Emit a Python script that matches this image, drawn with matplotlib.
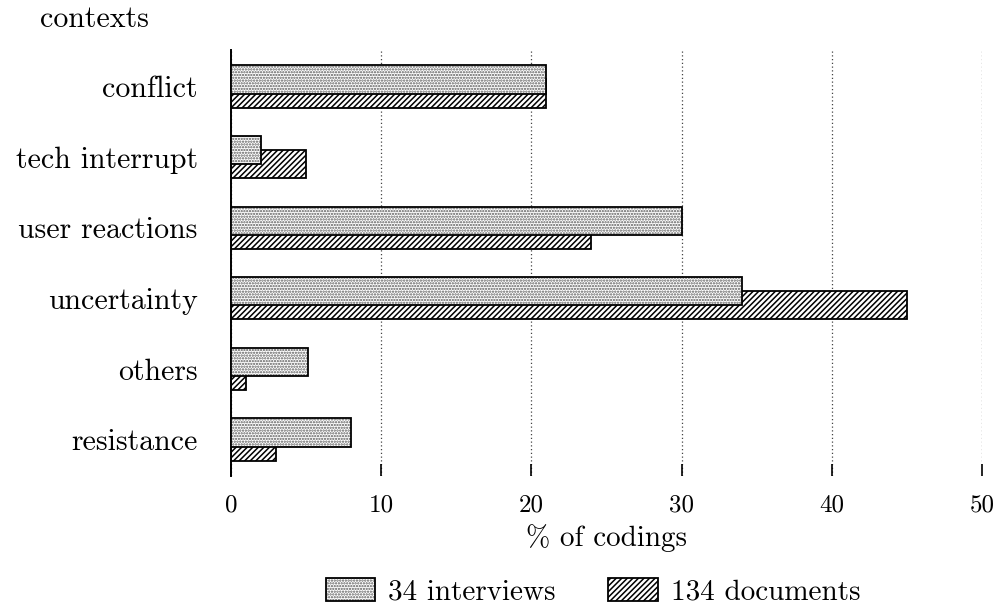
import matplotlib
matplotlib.use("Agg")
import matplotlib.pyplot as plt
import matplotlib.patches as mpatches
from matplotlib.legend_handler import HandlerTuple
import numpy as np

plt.rcParams["font.family"] = ["cmr10", "DejaVu Serif"]
plt.rcParams["axes.formatter.use_mathtext"] = True
plt.rcParams["hatch.linewidth"] = 1.1

# Share of codings per context, in percent
categories = ["conflict", "tech interrupt", "user reactions", "uncertainty", "others", "resistance"]
interviews = [21.0, 2.0, 30.0, 34.0, 5.1, 8.0]
documents = [21.0, 5.0, 24.0, 45.0, 1.0, 3.0]
series_names = ["34 interviews", "134 documents"]
x_ticks = [0, 10, 20, 30, 40, 50]

fig = plt.figure(figsize=(9.99, 6.12), dpi=100)
ax = fig.add_axes([231 / 999, 1 - 476 / 612, (982 - 231) / 999, (476 - 50) / 612])

y = np.arange(len(categories))
bar_h = 0.4
shift = 0.1

dot_hatch = "......"
line_hatch = "//////"
dot_color = "#5a5a5a"

# documents behind, interviews overlapping on top
ax.barh(y + shift, documents, height=bar_h, facecolor="white", edgecolor="black",
        hatch=line_hatch, linewidth=1.3, zorder=2)
ax.barh(y - shift, interviews, height=bar_h, facecolor="white", edgecolor=dot_color,
        hatch=dot_hatch, linewidth=0, zorder=3)
ax.barh(y - shift, interviews, height=bar_h, facecolor="none", edgecolor="black",
        linewidth=1.3, zorder=4)

ax.set_xlim(0, 50)
ax.set_ylim(len(categories) - 0.483, -0.517)

ax.set_xticks(x_ticks)
ax.set_xticklabels([str(t) for t in x_ticks], fontsize=18)
ax.set_yticks(y)
ax.set_yticklabels(categories, fontsize=21.5)

ax.tick_params(axis="x", direction="in", length=9, width=1.2, pad=13.5, color="black")
ax.tick_params(axis="y", direction="in", length=6.5, width=1.0, pad=24, color="black")

for side in ("top", "right", "bottom"):
    ax.spines[side].set_visible(False)
ax.spines["left"].set_linewidth(1.4)

ax.grid(axis="x", linestyle=(0, (1, 2)), color="#444444", linewidth=0.9, zorder=1)
ax.set_axisbelow(True)

ax.set_xlabel("% of codings", fontsize=21, labelpad=5)

fig.text(40 / 999, 1 - 27 / 612, "contexts", fontsize=21.5, ha="left", va="baseline")

h_int = (mpatches.Patch(facecolor="white", edgecolor=dot_color, hatch=dot_hatch, linewidth=0),
         mpatches.Patch(facecolor="none", edgecolor="black", linewidth=1.3))
h_doc = mpatches.Patch(facecolor="white", edgecolor="black", hatch=line_hatch, linewidth=1.3)
fig.legend([h_int, h_doc], series_names,
           handler_map={tuple: HandlerTuple(ndivide=1, pad=0)},
           loc="center", bbox_to_anchor=(593 / 999, 1 - 592 / 612), ncol=2, frameon=False,
           fontsize=21, handlelength=1.7, handleheight=0.8, handletextpad=0.45,
           columnspacing=1.8)

fig.savefig("out.png", dpi=100)
